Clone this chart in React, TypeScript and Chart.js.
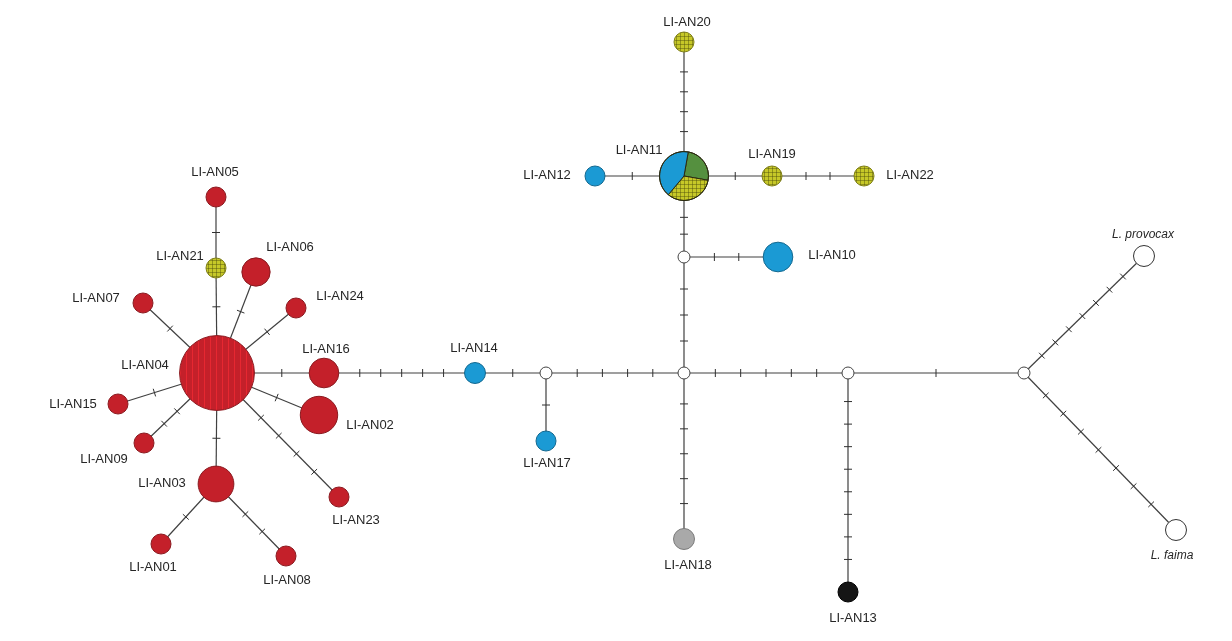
import React, { useEffect, useRef } from "react";
import { Chart, registerables } from "chart.js";
Chart.register(...registerables);

// ---- Data: haplotype network ----
const nodeNames = [
  "LI-AN04", "LI-AN05", "LI-AN21", "LI-AN06", "LI-AN07", "LI-AN24", "LI-AN16", "LI-AN15",
  "LI-AN02", "LI-AN09", "LI-AN03", "LI-AN23", "LI-AN01", "LI-AN08", "LI-AN14", "",
  "LI-AN17", "", "", "LI-AN10", "LI-AN11", "LI-AN12", "LI-AN19", "LI-AN22",
  "LI-AN20", "LI-AN18", "", "LI-AN13", "", "L. provocax", "L. faima",
];
const nodeX = [
  217, 216, 216, 256, 143, 296, 324, 118, 319, 144, 216, 339, 161, 286, 475, 546,
  546, 684, 684, 778, 684, 595, 772, 864, 684, 684, 848, 848, 1024, 1144, 1176,
];
const nodeY = [
  373, 197, 268, 272, 303, 308, 373, 404, 415, 443, 484, 497, 544, 556, 373, 373,
  441, 373, 257, 257, 176, 176, 176, 176, 42, 539, 373, 592, 373, 256, 530,
];
// haplotype frequencies (0 = median vector)
const nodeFreq = [
  14, 1, 1, 2, 1, 1, 2.2, 1, 3.5, 1, 3.2, 1, 1, 1, 1.1, 0,
  1, 0, 0, 2.2, 6, 1, 1, 1, 1, 1.1, 0, 1, 0, 1.1, 1.1,
];
const nodeGroup = [
  "red", "red", "yellow", "red", "red", "red", "red", "red", "red", "red", "red", "red", "red", "red", "blue", "median",
  "blue", "median", "median", "blue", "mixed", "blue", "yellow", "yellow", "yellow", "gray", "median", "black", "median", "outgroup", "outgroup",
];
const edgeFrom = [0, 2, 0, 0, 0, 0, 0, 0, 0, 0, 0, 10, 10, 6, 14, 15, 15, 17, 18, 18, 20, 20, 22, 20, 17, 17, 26, 26, 28, 28];
const edgeTo = [2, 1, 3, 4, 5, 6, 7, 8, 9, 10, 11, 12, 13, 14, 15, 16, 17, 18, 19, 20, 21, 22, 23, 24, 25, 26, 27, 28, 29, 30];
const edgeMutations = [1, 1, 1, 1, 1, 1, 1, 1, 2, 1, 4, 1, 2, 5, 1, 1, 4, 3, 2, 2, 1, 1, 2, 4, 5, 5, 8, 1, 7, 7];
// LI-AN11 composition
const pieGroups = ["green", "yellow", "blue"];
const pieCounts = [3, 4, 5];

// ---- Styles ----
const groupFill: Record<string, string> = {
  red: "#c4202a", blue: "#1b9ad4", yellow: "#c6c828", green: "#55903f",
  gray: "#a9a9a9", black: "#151515", median: "#ffffff", outgroup: "#ffffff", mixed: "rgba(0,0,0,0)",
};
const groupBorder: Record<string, string> = {
  red: "#8a1a20", blue: "#13688f", yellow: "#7f7f18", green: "#3a6a2a",
  gray: "#7a7a7a", black: "#000000", median: "#444444", outgroup: "#333333", mixed: "rgba(0,0,0,0)",
};
const labelOffset: [number, number][] = [
  [-72, -8], [-1, -25], [-36, -12], [34, -25], [-47, -5], [44, -12], [2, -24], [-45, 0],
  [51, 10], [-40, 16], [-54, -1], [17, 23], [-8, 23], [1, 24], [-1, -25], [0, 0],
  [1, 22], [0, 0], [0, 0], [54, -2], [-45, -26], [-48, -1], [0, -22], [46, -1],
  [3, -20], [4, 26], [0, 0], [5, 26], [0, 0], [-1, -21], [-4, 26],
];

function radiusOf(i: number) {
  const f = nodeFreq[i];
  return f === 0 ? 6 : 10 * Math.sqrt(f);
}

function makePattern(kind: string): CanvasPattern | string {
  const c = document.createElement("canvas");
  if (kind === "yellow") {
    c.width = 4; c.height = 4;
    const g = c.getContext("2d")!;
    g.fillStyle = groupFill.yellow; g.fillRect(0, 0, 4, 4);
    g.fillStyle = "rgba(80,80,10,0.45)";
    g.fillRect(0, 0, 4, 1); g.fillRect(0, 0, 1, 4);
    return g.createPattern(c, "repeat") || groupFill.yellow;
  }
  if (kind === "red") {
    c.width = 6; c.height = 6;
    const g = c.getContext("2d")!;
    g.fillStyle = groupFill.red; g.fillRect(0, 0, 6, 6);
    g.fillStyle = "rgba(235,40,50,0.9)";
    g.fillRect(0, 0, 1, 6);
    return g.createPattern(c, "repeat") || groupFill.red;
  }
  return groupFill[kind];
}

export default function App() {
  const ref = useRef<HTMLCanvasElement | null>(null);
  useEffect(() => {
    if (!ref.current) return;
    const yellowPat = makePattern("yellow");
    const redStripe = makePattern("red");
    const fills = nodeGroup.map((g, i) => {
      if (g === "yellow") return yellowPat;
      if (i === 0) return redStripe;
      return groupFill[g];
    });

    const edgeSets = edgeFrom.map((f, k) => ({
      type: "scatter" as const,
      label: "edge" + k,
      data: [
        { x: nodeX[f], y: nodeY[f] },
        { x: nodeX[edgeTo[k]], y: nodeY[edgeTo[k]] },
      ],
      showLine: true,
      borderColor: "#404040",
      borderWidth: 1.2,
      pointRadius: 0,
      order: 2,
    }));

    const nodeSet = {
      type: "scatter" as const,
      label: "haplotypes",
      data: nodeX.map((x, i) => ({ x, y: nodeY[i] })),
      pointRadius: nodeX.map((_, i) => radiusOf(i)),
      pointBackgroundColor: fills,
      pointBorderColor: nodeGroup.map((g) => groupBorder[g]),
      pointBorderWidth: 1,
      showLine: false,
      order: 1,
    };

    const networkPlugin = {
      id: "network",
      afterDatasetsDraw(chart: any) {
        const ctx: CanvasRenderingContext2D = chart.ctx;
        const xs = chart.scales.x, ys = chart.scales.y;
        const px = (i: number) => xs.getPixelForValue(nodeX[i]);
        const py = (i: number) => ys.getPixelForValue(nodeY[i]);
        ctx.save();
        // mutation ticks
        ctx.strokeStyle = "#303030";
        ctx.lineWidth = 1;
        edgeFrom.forEach((f, k) => {
          const t = edgeTo[k];
          const x1 = px(f), y1 = py(f), x2 = px(t), y2 = py(t);
          const len = Math.hypot(x2 - x1, y2 - y1);
          const ux = (x2 - x1) / len, uy = (y2 - y1) / len;
          const s = radiusOf(f), e = len - radiusOf(t);
          const n = edgeMutations[k];
          for (let i = 0; i < n; i++) {
            const d = s + ((e - s) * (i + 1)) / (n + 1);
            const cx = x1 + ux * d, cy = y1 + uy * d;
            ctx.beginPath();
            ctx.moveTo(cx - uy * 4, cy + ux * 4);
            ctx.lineTo(cx + uy * 4, cy - ux * 4);
            ctx.stroke();
          }
        });
        // pie for mixed node
        nodeGroup.forEach((g, i) => {
          if (g !== "mixed") return;
          const cx = px(i), cy = py(i), r = radiusOf(i);
          const total = pieCounts.reduce((a, b) => a + b, 0);
          let a0 = -80 * Math.PI / 180;
          pieGroups.forEach((pg, j) => {
            const a1 = a0 + (pieCounts[j] / total) * Math.PI * 2;
            ctx.beginPath();
            ctx.moveTo(cx, cy);
            ctx.arc(cx, cy, r, a0, a1);
            ctx.closePath();
            ctx.fillStyle = pg === "yellow" ? (yellowPat as any) : groupFill[pg];
            ctx.fill();
            ctx.strokeStyle = "#2a2a10";
            ctx.lineWidth = 1;
            ctx.stroke();
            a0 = a1;
          });
          ctx.beginPath();
          ctx.arc(cx, cy, r, 0, Math.PI * 2);
          ctx.strokeStyle = "#2a2a10";
          ctx.stroke();
        });
        // labels
        ctx.fillStyle = "#262626";
        ctx.textAlign = "center";
        ctx.textBaseline = "middle";
        nodeNames.forEach((name, i) => {
          if (!name) return;
          const italic = nodeGroup[i] === "outgroup";
          ctx.font = italic ? "italic 12px 'Liberation Sans', Arial, sans-serif" : "13px 'Liberation Sans', Arial, sans-serif";
          ctx.fillText(name, px(i) + labelOffset[i][0], py(i) + labelOffset[i][1]);
        });
        ctx.restore();
      },
    };

    const chart = new Chart(ref.current, {
      type: "scatter",
      data: { datasets: [nodeSet as any, ...edgeSets] },
      options: {
        animation: false,
        responsive: true,
        maintainAspectRatio: false,
        events: [],
        layout: { padding: 0, autoPadding: false },
        plugins: { legend: { display: false }, tooltip: { enabled: false } },
        scales: {
          x: { type: "linear", min: 0, max: 1232, display: false },
          y: { type: "linear", min: 0, max: 641, reverse: true, display: false },
        },
      },
      plugins: [networkPlugin],
    });
    return () => chart.destroy();
  }, []);

  return (
    <div style={{ position: "absolute", left: 0, top: 0, width: 1232, height: 641, background: "#fff" }}>
      <canvas ref={ref} />
    </div>
  );
}
